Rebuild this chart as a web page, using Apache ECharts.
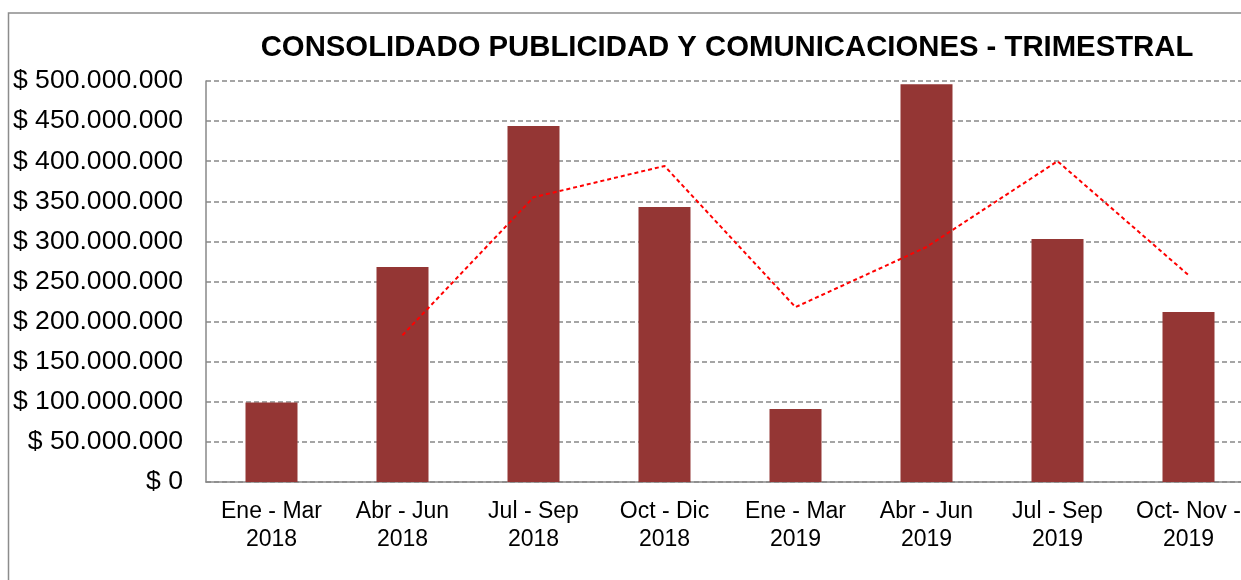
<!DOCTYPE html>
<html>
<head>
<meta charset="utf-8">
<script src="https://cdn.jsdelivr.net/npm/echarts@6/dist/echarts.min.js"></script>
<style>
html,body{margin:0;padding:0;background:#fff;overflow:hidden;width:1241px;height:580px;}
#chart{width:1262px;height:580px;}
</style>
</head>
<body>
<div id="chart"></div>
<script>
const categories = ['Ene - Mar\n2018','Abr - Jun\n2018','Jul - Sep\n2018','Oct - Dic\n2018','Ene - Mar\n2019','Abr - Jun\n2019','Jul - Sep\n2019','Oct- Nov -\n2019'];
const barValues = [99000000, 268000000, 444000000, 343000000, 91000000, 496000000, 303000000, 212000000];
const trendValues = [null, 183000000, 355000000, 394000000, 218000000, 293000000, 400000000, 258000000];
const yTicks = {min: 0, max: 500000000, interval: 50000000};
const titleText = 'CONSOLIDADO PUBLICIDAD Y COMUNICACIONES - TRIMESTRAL';

function fmt(v){
  if (v === 0) return '$ 0';
  return '$ ' + String(v).replace(/\B(?=(\d{3})+(?!\d))/g, '.');
}

const chart = echarts.init(document.getElementById('chart'), null, {renderer:'canvas'});
chart.setOption({
  animation: false,
  backgroundColor: '#ffffff',
  title: {
    text: titleText,
    left: 722, top: 28, textAlign: 'center',
    textStyle: {fontFamily: 'Liberation Sans, Arial, sans-serif', fontSize: 29.3, fontWeight: 'bold', color: '#000'}
  },
  graphic: [{
    type: 'rect', silent: true, z: -1,
    shape: {x: 8.5, y: 13, width: 1400, height: 800},
    style: {fill: 'none', stroke: '#8c8c8c', lineWidth: 1.5}
  }],
  grid: {left: 206, right: 8, top: 81, bottom: 98, containLabel: false},
  xAxis: {
    type: 'category',
    data: categories,
    axisLine: {lineStyle: {color: '#888', width: 1.5}},
    axisTick: {show: false},
    axisLabel: {
      interval: 0, margin: 16,
      fontFamily: 'Liberation Sans, Arial, sans-serif', fontSize: 23, lineHeight: 28, color: '#000'
    }
  },
  yAxis: {
    type: 'value',
    min: yTicks.min, max: yTicks.max, interval: yTicks.interval,
    axisLine: {show: true, lineStyle: {color: '#888', width: 1.5}},
    axisTick: {show: false},
    splitLine: {lineStyle: {color: '#888', type: [5, 3], width: 1.5}},
    axisLabel: {
      margin: 23, formatter: fmt,
      fontFamily: 'Liberation Sans, Arial, sans-serif', fontSize: 26.6, color: '#000'
    }
  },
  series: [{
    type: 'bar',
    data: barValues,
    barWidth: 52,
    itemStyle: {color: '#943634'}
  },{
    type: 'line',
    data: trendValues,
    symbol: 'none',
    connectNulls: false,
    lineStyle: {color: '#ff0000', width: 2, type: [4, 3]},
    z: 3
  }]
});
</script>
</body>
</html>
